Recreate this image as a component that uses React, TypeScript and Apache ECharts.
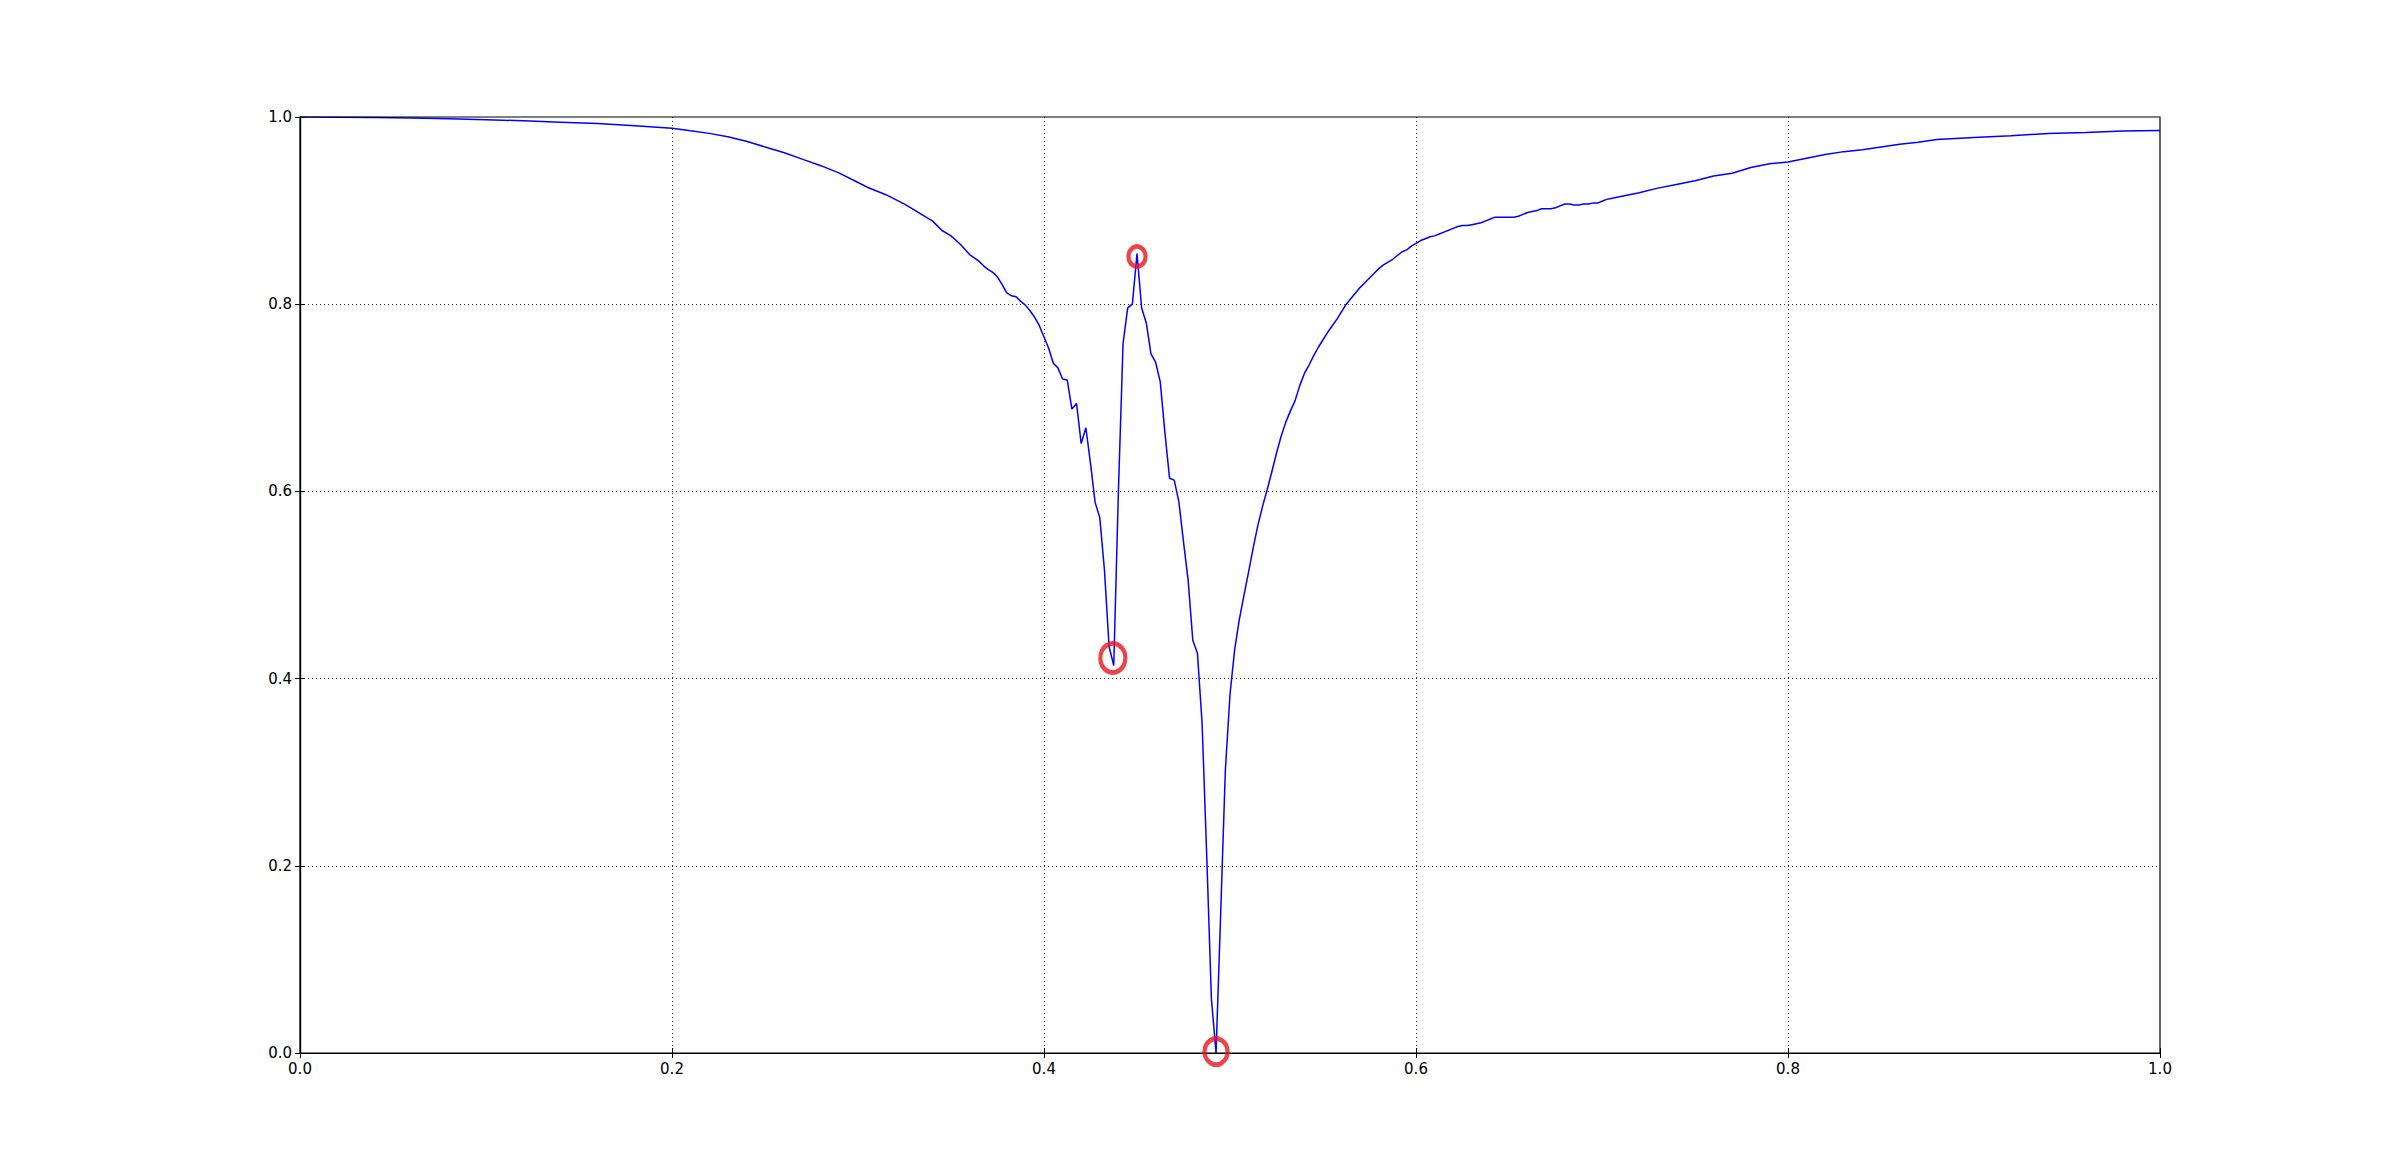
import React, { useEffect, useRef } from "react";
import * as echarts from "echarts";

// Curve sample positions (x) and values (y)
const xs: number[] = [
  0, 0.02, 0.04, 0.06, 0.08, 0.1, 0.12, 0.14, 0.16, 0.18, 0.2, 0.21, 0.22, 0.23, 0.24, 0.25, 0.26, 0.27, 0.28, 0.29,
  0.3, 0.305, 0.31, 0.315, 0.32, 0.325, 0.33, 0.335, 0.34, 0.345, 0.35, 0.355, 0.36,
  0.365, 0.3675, 0.37, 0.3725, 0.375, 0.3775, 0.38, 0.3825, 0.385, 0.3875, 0.39, 0.3925, 0.395, 0.3975,
  0.4, 0.4025, 0.405, 0.4075, 0.41, 0.4125, 0.415, 0.4175, 0.42, 0.4225, 0.425, 0.4275, 0.43, 0.4325, 0.435, 0.4375,
  0.44, 0.4425, 0.445, 0.4475, 0.45, 0.4525, 0.455, 0.4575, 0.46, 0.4625, 0.465, 0.4675, 0.47, 0.4725, 0.475, 0.4775,
  0.48, 0.4825, 0.485, 0.4875, 0.49, 0.4925, 0.495, 0.4975, 0.5, 0.5025, 0.505, 0.5075, 0.51, 0.5125, 0.515, 0.5175,
  0.52, 0.5225, 0.525, 0.5275, 0.53, 0.5325, 0.535, 0.5375, 0.54, 0.5425, 0.545, 0.5475, 0.55, 0.5525, 0.555, 0.5575,
  0.56, 0.5625, 0.565, 0.5675, 0.57, 0.5725, 0.575, 0.5775, 0.58, 0.5825, 0.585, 0.5875, 0.59, 0.5925, 0.595, 0.5975,
  0.6, 0.6025, 0.605, 0.6075, 0.61, 0.6125, 0.615, 0.6175, 0.62, 0.6225, 0.625, 0.6275, 0.63, 0.6325, 0.635, 0.6375,
  0.64, 0.6425, 0.645, 0.6475, 0.65, 0.6525, 0.655, 0.6575, 0.66, 0.6625, 0.665, 0.6675, 0.67, 0.6725, 0.675, 0.6775,
  0.68, 0.6825, 0.685, 0.6875, 0.69, 0.6925, 0.695, 0.6975, 0.7, 0.7025, 0.705,
  0.71, 0.72, 0.73, 0.74, 0.75, 0.76, 0.77, 0.78, 0.79, 0.8, 0.81, 0.82, 0.83, 0.84, 0.85, 0.86, 0.87, 0.88,
  0.9, 0.92, 0.94, 0.96, 0.98, 1.0,
];

const ys: number[] = [
  1.0, 0.9998, 0.9994, 0.9988, 0.998, 0.997, 0.996, 0.9945, 0.993, 0.9907, 0.988, 0.9852, 0.9825, 0.979, 0.974, 0.968, 0.962, 0.955, 0.948, 0.94,
  0.93, 0.925, 0.921, 0.917, 0.912, 0.907, 0.901, 0.895, 0.889, 0.879, 0.873, 0.864, 0.853,
  0.846, 0.841, 0.837, 0.834, 0.829, 0.821, 0.812, 0.809, 0.808, 0.803, 0.799, 0.793, 0.786, 0.777,
  0.765, 0.753, 0.737, 0.732, 0.72, 0.719, 0.688, 0.694, 0.651, 0.668, 0.63, 0.588, 0.572, 0.516, 0.434, 0.414,
  0.6, 0.758, 0.796, 0.8, 0.854, 0.796, 0.78, 0.747, 0.738, 0.717, 0.663, 0.614, 0.612, 0.589, 0.546, 0.505,
  0.441, 0.427, 0.352, 0.21, 0.058, 0.0, 0.15, 0.302, 0.383, 0.431, 0.463, 0.489, 0.514, 0.54, 0.564, 0.584,
  0.602, 0.621, 0.641, 0.659, 0.674, 0.686, 0.697, 0.713, 0.726, 0.735, 0.745, 0.754, 0.762, 0.77, 0.777, 0.784,
  0.792, 0.8, 0.806, 0.812, 0.818, 0.823, 0.828, 0.833, 0.838, 0.842, 0.845, 0.848, 0.852, 0.856, 0.858, 0.862,
  0.865, 0.868, 0.87, 0.872, 0.873, 0.875, 0.877, 0.879, 0.881, 0.883, 0.884, 0.884, 0.885, 0.886, 0.887, 0.889,
  0.891, 0.893, 0.893, 0.893, 0.893, 0.893, 0.894, 0.896, 0.898, 0.899, 0.9, 0.902, 0.902, 0.902, 0.903, 0.905,
  0.907, 0.907, 0.906, 0.906, 0.907, 0.907, 0.908, 0.908, 0.91, 0.912, 0.913,
  0.915, 0.919, 0.924, 0.928, 0.932, 0.937, 0.94, 0.946, 0.95, 0.952, 0.956, 0.96, 0.963, 0.965, 0.968, 0.971, 0.973, 0.976,
  0.978, 0.98, 0.9825, 0.9835, 0.985, 0.9855,
];

// Highlighted (circled) points
const markX: number[] = [0.437, 0.45, 0.4925];
const markY: number[] = [0.422, 0.851, 0.0015];

// Axis ticks
const tickValues: number[] = [0, 0.2, 0.4, 0.6, 0.8, 1.0];

// Marker ring sizes (style, not data)
const MARK_SIZES: number[][] = [
  [25, 29],
  [17, 20],
  [23, 26],
];

export default function App() {
  const ref = useRef<HTMLDivElement>(null);

  useEffect(() => {
    if (!ref.current) return;
    const chart = echarts.init(ref.current, null, { renderer: "svg" });
    const fontFamily = "DejaVu Sans";
    const lineData = xs.map((x, i) => [x, ys[i]]);
    const markData = markX.map((x, i) => ({
      value: [x, markY[i]],
      symbolSize: MARK_SIZES[i],
    }));
    const fmt = (v: number) => v.toFixed(1);
    const baseAxis = {
      type: "value" as const,
      min: tickValues[0],
      max: tickValues[tickValues.length - 1],
      interval: 0.2,
    };
    const gridLine = {
      show: true,
      showMinLine: false,
      showMaxLine: false,
      lineStyle: { color: "#333", type: [1, 3], width: 1 },
    };

    chart.setOption({
      animation: false,
      backgroundColor: "#ffffff",
      grid: {
        left: 300,
        top: 117,
        right: 240,
        bottom: 117,
        containLabel: false,
        show: true,
        borderColor: "#000",
        borderWidth: 1.2,
        backgroundColor: "rgba(0,0,0,0)",
        z: 5,
      },
      xAxis: [
        {
          ...baseAxis,
          position: "bottom",
          axisLine: { show: true, lineStyle: { color: "#000", width: 1.2 } },
          axisTick: { show: true, inside: true, length: 5, lineStyle: { color: "#000" } },
          axisLabel: { show: true, color: "#000", fontSize: 15, fontFamily, margin: 8, formatter: fmt },
          splitLine: gridLine,
        },
        {
          ...baseAxis,
          position: "top",
          axisLine: { show: true, lineStyle: { color: "#000", width: 1.2 } },
          axisTick: { show: true, inside: true, length: 5, lineStyle: { color: "#000" } },
          axisLabel: { show: false },
          splitLine: { show: false },
        },
      ],
      yAxis: [
        {
          ...baseAxis,
          position: "left",
          axisLine: { show: true, lineStyle: { color: "#000", width: 1.2 } },
          axisTick: { show: true, inside: true, length: 5, lineStyle: { color: "#000" } },
          axisLabel: { show: true, color: "#000", fontSize: 15, fontFamily, margin: 8, formatter: fmt },
          splitLine: gridLine,
        },
        {
          ...baseAxis,
          position: "right",
          axisLine: { show: true, lineStyle: { color: "#000", width: 1.2 } },
          axisTick: { show: true, inside: true, length: 5, lineStyle: { color: "#000" } },
          axisLabel: { show: false },
          splitLine: { show: false },
        },
      ],
      series: [
        {
          type: "line",
          xAxisIndex: 0,
          yAxisIndex: 0,
          data: lineData,
          symbol: "none",
          lineStyle: { color: "#0000ff", width: 1.5 },
          z: 2,
        },
        {
          type: "scatter",
          xAxisIndex: 0,
          yAxisIndex: 0,
          data: markData,
          symbol: "circle",
          itemStyle: { color: "rgba(0,0,0,0)", borderColor: "#e8141c", borderWidth: 4.5 },
          z: 6,
        },
      ],
    });

    return () => {
      chart.dispose();
    };
  }, []);

  return (
    <div
      ref={ref}
      style={{ position: "fixed", left: 0, top: 0, width: 2400, height: 1170, background: "#fff" }}
    />
  );
}
